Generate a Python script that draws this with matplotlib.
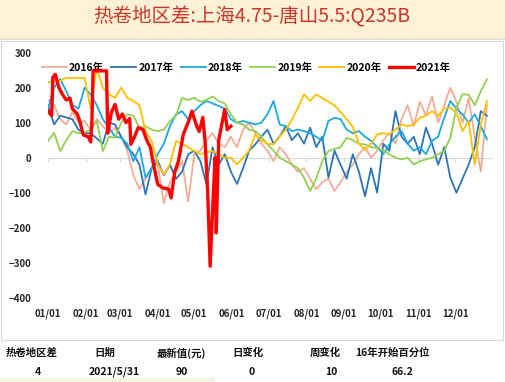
import numpy as np
import matplotlib.pyplot as plt
from matplotlib.patches import Rectangle

plt.rcParams['font.family'] = ['Noto Sans CJK SC', 'DejaVu Sans']

# data
title = '热卷地区差:上海4.75-唐山5.5:Q235B'
years = ['2016年', '2017年', '2018年', '2019年', '2020年', '2021年']
colors = ['#F2AD97', '#2E75B6', '#1DA8E2', '#92D050', '#FFC000', '#FF0000']
month_days = [0, 31, 59, 90, 120, 151, 181, 212, 243, 273, 304, 334]
month_labels = ['01/01', '02/01', '03/01', '04/01', '05/01', '06/01',
                '07/01', '08/01', '09/01', '10/01', '11/01', '12/01']
step_days = 5  # full-year series are sampled every 5 days

v2016 = [165, 150, 110, 95, 130, 100,
         105, 80, 110, 90, 70, 85,
         60, 20, -50, -90, -60, -30,
         -20, -130, -70, -40, -10, -125,
         10, 20, 50, 70, 40, 30,
         60, 30, 80, 100, 70, 40,
         20, -10, 30, 10, -20, -40,
         -30, -60, -90, -70, -60, -95,
         -70, -40, -20, 10, 30, 0,
         20, 50, 70, 40, 110, 150,
         90, 160, 120, 175, 100, 150,
         200, 160, 100, 170, 60, -40, 150]
v2017 = [150, 95, 120, 115, 110, 80,
         70, 70, 55, 40, 100, 95,
         60, 30, 10, -20, -105, -30,
         -10, -50, -20, -60, -40, 10,
         20, -10, -76, 30, -20, 10,
         -40, -75, -30, 20, 38, 60,
         80, 40, 60, 90, 50, 70,
         40, 86, 30, 60, -57, 20,
         -20, -60, 10, -40, -110, -30,
         -100, 40, 20, 133, 60, 40,
         60, 10, 86, 40, -20, 30,
         -57, -100, -60, -20, 30, 133, 120]
v2018 = [140, 200, 225, 190, 150, 140,
         200, 180, 150, 110, 86, 60,
         57, 40, -10, 30, -57, -30,
         10, 40, 90, 124, 133, 110,
         133, 150, 162, 155, 148, 140,
         110, 100, 105, 100, 95, 100,
         124, 162, 95, 90, 76, 80,
         76, 70, 60, 48, 105, 114,
         110, 80, 70, 76, 60, 48,
         30, 10, 38, 60, 76, 40,
         20, 30, 10, 48, 60, 114,
         162, 140, 124, 100, 124, 90, 52]
v2019 = [48, 71, 19, 50, 76, 70,
         72, 80, 105, 19, 60, 57,
         100, 124, 120, 86, 90, 80,
         76, 80, 105, 120, 171, 165,
         171, 160, 165, 175, 162, 155,
         124, 100, 95, 80, 76, 60,
         38, 20, 0, -10, -19, -30,
         -57, -95, -60, -10, 19, 25,
         30, 57, 50, 40, 38, 30,
         28, 20, 10, 0, -5, 0,
         -19, -10, -5, 0, 10, 20,
         57, 143, 181, 180, 150, 190, 224]
v2020 = [215, 218, 220, 228, 228, 228,
         228, 140, 257, 200, 181, 171,
         200, 171, 162, 150, 76, 48,
         -19, -48, -20, 48, 40, 30,
         19, 10, 15, 19, 10, 0,
         0, -19, 0, 20, 67, 50,
         40, 38, 60, 80, 108, 143,
         181, 162, 181, 170, 160, 150,
         130, 110, 88, 40, 22, 40,
         67, 70, 67, 80, 95, 90,
         95, 114, 120, 133, 120, 140,
         143, 130, 76, 105, -19, 95, 162]
days_2021 = [0, 3, 4, 6, 9, 12, 15, 18, 20, 24, 26, 29, 33, 35, 36, 37, 44, 48,
             49, 52, 55, 58, 61, 64, 67, 68, 71, 74, 78, 81, 84, 86, 90, 94,
             99, 101, 104, 107, 111, 116, 118, 122, 124, 127, 129, 131, 133,
             135, 137, 138, 140, 145, 147, 150]
v2021 = [133, 120, 230, 238, 200, 180, 165, 170, 140, 125, 105, 65, 60, 45,
         100, 248, 248, 248, 70, 130, 152, 110, 125, 100, 112, 38, 60, 86,
         80, 50, 30, -10, -76, -86, -90, -115, -40, -10, 67, 110, 133, 90,
         75, 115, 40, -100, -310, -150, 0, -215, 50, 138, 80, 90]

table_head = ['热卷地区差', '日期', '最新值(元)', '日变化', '周变化', '16年开始百分位']
table_vals = ['4', '2021/5/31', '90', '0', '10', '66.2']
head_x = [32, 105, 181, 248, 325, 392]
vals_x = [38, 114, 182, 252, 331, 402]

W, H = 506, 382
fig = plt.figure(figsize=(W / 100, H / 100), dpi=100)

# title band
fig.add_artist(Rectangle((0, 1 - 38 / H), 1, 38 / H, transform=fig.transFigure,
                         facecolor='#FEF1D6', edgecolor='none'))
fig.add_artist(Rectangle((0, 1 - 39.5 / H), 1, 1.5 / H, transform=fig.transFigure,
                         facecolor='#E8E2D2', edgecolor='none'))
fig.text(252 / W, 1 - 17 / H, title, ha='center', va='center',
         fontsize=14, color='#C8372A')

# chart box
fig.add_artist(Rectangle((1 / W, 1 - 340 / H), 502 / W, 299 / H, transform=fig.transFigure,
                         fill=False, edgecolor='#D9D9D9', lw=0.8))

ax = fig.add_axes([48 / W, 1 - 297.7 / H, 445 / W, 245 / H])
for s in ax.spines.values():
    s.set_visible(False)

series = [v2016, v2017, v2018, v2019, v2020]
for vals, name, c in zip(series, years[:5], colors[:5]):
    x = np.arange(len(vals)) * step_days
    ax.plot(x, vals, color=c, lw=1.3, label=name, zorder=3)
ax.plot(days_2021, v2021, color=colors[5], lw=2.4, label=years[5], zorder=10)

ax.axhline(0, color='#D9D9D9', lw=0.8, zorder=1)
ax.set_xlim(0, 365)
ax.set_ylim(-400, 300)
ax.set_yticks(range(-400, 301, 100))
ax.set_xticks(month_days)
ax.set_xticklabels(month_labels)
ax.tick_params(axis='both', length=0, labelsize=7, labelcolor='#262626')
ax.tick_params(axis='x', pad=8)
ax.tick_params(axis='y', pad=12)
for lab in ax.get_xticklabels() + ax.get_yticklabels():
    lab.set_fontweight('bold')

# month ticks on the zero line
sec = ax.secondary_xaxis(400 / 700)
sec.set_alignment('bottom')
sec.set_xticks(month_days)
sec.tick_params(axis='x', direction='out', length=3, color='#D9D9D9',
                labelbottom=False, labeltop=False)
for s in sec.spines.values():
    s.set_visible(False)

ax.legend(loc='center', bbox_to_anchor=(0.446, 0.9375), ncol=6, frameon=False,
          handlelength=2.4, columnspacing=0.7, handletextpad=0.2,
          prop=dict(size=7.5, weight='bold'))

# summary table under the chart
for h, v, hx, vx in zip(table_head, table_vals, head_x, vals_x):
    fig.text(hx / W, 1 - 353 / H, h, ha='center', va='center',
             fontsize=7.5, fontweight='bold', color='#111111')
    fig.text(vx / W, 1 - 372 / H, v, ha='center', va='center',
             fontsize=7.5, fontweight='bold', color='#111111')
fig.add_artist(Rectangle((0, 0), 215 / W, 4 / H, transform=fig.transFigure,
                         facecolor='#F4F4E2', edgecolor='none'))

fig.savefig('out.png', dpi=100)
